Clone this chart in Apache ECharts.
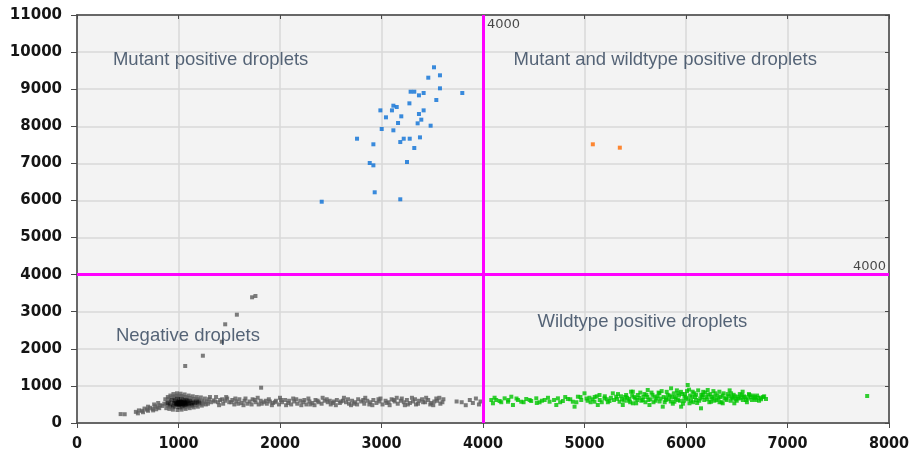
<!DOCTYPE html>
<html>
<head>
<meta charset="utf-8">
<script src="https://cdn.jsdelivr.net/npm/echarts@6/dist/echarts.min.js"></script>
<style>
  html, body { margin: 0; padding: 0; background: #ffffff; }
  #chart { width: 914px; height: 460px; }
</style>
</head>
<body>
<div id="chart"></div>
<script>
// ---------- data ----------
const xTicks = [0, 1000, 2000, 3000, 4000, 5000, 6000, 7000, 8000];
const yTicks = [0, 1000, 2000, 3000, 4000, 5000, 6000, 7000, 8000, 9000, 10000, 11000];
const thresholdX = 4000;
const thresholdY = 4000;

const quadrantLabels = [
  [354, 9787, 'Mutant positive droplets'],
  [4301, 9787, 'Mutant and wildtype positive droplets'],
  [384, 2346, 'Negative droplets'],
  [4537, 2723, 'Wildtype positive droplets']
];

const mutantPoints = [
  [3517,9590],[3576,9374],[3461,9310],[3576,9023],[3796,8897],[3287,8932],[3323,8932],
  [3415,8897],[3369,8834],[3540,8708],[3275,8618],[3117,8555],[3150,8519],[3103,8429],
  [2989,8429],[3415,8429],[3369,8331],[3195,8268],[3044,8241],[3392,8178],[3163,8088],
  [3356,8079],[3484,8016],[3002,7926],[3117,7891],[2759,7665],[3219,7665],[3278,7665],
  [3379,7701],[3185,7575],[2920,7514],[3323,7414],[2884,7010],[2920,6947],[3251,7037],
  [2933,6220],[3185,6031],[2411,5966]
];

const doublePoints = [[5082,7514],[5348,7423]];

const negativeOutliers = [
  [1066,1537],[1240,1814],[1427,2192],[1460,2661],[1575,2920],[1725,3389],[1758,3424],[1814,952]
];

const negativeBand = [
  [430,240],[470,236],[580,300],[610,340],[640,330],[665,390],[690,360],[720,410],[745,380],
  [770,450],[795,430],[820,480],[840,460],[860,520],[880,500],[600,260],[650,290],[700,330],
  [750,340],[780,370],[810,400],[700,440],[760,500],[800,540],
  [870,640],[895,700],[920,740],[950,780],[985,800],[1020,790],[1060,770],[1100,740],[1140,720],
  [1180,700],[1220,690],[1260,660],
  [880,400],[910,380],[945,360],[990,350],[1030,360],[1070,380],[1110,400],[1150,420],[1190,440],
  [1230,470],[1270,500],
  [890,560],[900,650],[930,690],[960,720],[990,740],[1030,730],[1070,700],[1110,680],[1150,650],
  [1190,640],[1230,600],[1250,560],[900,460],[940,420],[1100,460],[1140,480],[1180,500],[1210,520],
  [960,680],[1000,700],[1040,690],[1080,660],[1120,620],[1160,600],[1200,600],[1240,520],[920,440],
  [1060,420],[1090,440],[1130,460],[1170,480],
  [1280,580],[1300,640],[1320,560],[1345,610],[1370,700],[1390,560],[1410,620],[1440,520],[1460,600],
  [1480,660],[1500,560],[1530,620],[1550,500],[1570,580],[1600,640],[1620,540],[1650,600],[1680,520],
  [1700,580],[1730,640],[1760,560],[1790,500],[1810,600],[1840,560],[1870,520],[1900,580],[1930,540],
  [1960,600],[1990,500],[2020,560],[2050,620],[2080,540],[2110,500],[2140,580],[2170,520],[2200,600],
  [2230,560],[2260,500],[2290,580],[2320,540],[2350,620],[2380,560],[2410,520],[2440,600],[2470,560],
  [2500,500],[2530,580],[2560,620],[2590,540],[2620,600],[2650,560],[2680,520],[2710,600],[2740,560],
  [2770,640],[2800,580],[2830,520],[2860,600],[2890,560],[2920,620],[2950,540],[2980,580],[3010,500],
  [3040,600],[3070,560],[3100,640],[3130,580],[3160,520],[3190,600],[3220,560],[3250,620],[3280,540],
  [3310,580],[3340,500],[3370,600],[3400,640],[3430,560],[3460,620],[3490,540],[3520,580],[3550,600],
  [3580,520],[3610,640],[3740,580],[3790,560],[3830,480],[3870,620],[3900,540],[3930,660],[3960,500],
  [3975,580],
  [1290,520],[1360,580],[1430,640],[1520,560],[1590,520],[1660,660],[1750,620],[1820,520],[1890,640],
  [1950,560],[2010,620],[2090,600],[2160,640],[2240,620],[2300,500],[2370,600],[2460,640],[2520,540],
  [2600,580],[2670,640],[2730,520],[2820,620],[2880,500],[2970,640],[3050,540],[3120,620],[3200,660],
  [3260,500],[3330,640],[3410,560],[3480,500],[3540,660],[3600,560],
  [1310,700],[1400,480],[1470,700],[1560,660],[1640,480],[1720,500],[1780,680],[1860,600],[1920,480],
  [2000,680],[2060,480],[2130,660],[2210,480],[2280,660],[2340,480],[2420,680],[2490,600],[2550,480],
  [2630,680],[2700,480],[2760,500],[2840,680],[2910,480],[2990,660],[3080,480],[3150,680],[3230,480],
  [3300,680],[3360,520],[3440,680],[3510,480],[3570,680]
];

const negativeCore = [
  [900,540],[920,500],[930,580],[940,620],[950,470],[960,540],[970,600],[975,440],[985,510],[990,650],
  [995,560],[1000,480],[1005,600],[1010,530],[1015,420],[1020,570],[1025,500],[1030,640],[1035,460],
  [1040,550],[1045,600],[1050,520],[1055,480],[1060,580],[1070,540],[1075,620],[1080,500],[1090,560],
  [1100,520],[1110,590],[1120,540],[1130,500],[1140,560],[1160,540],[1180,580],[1200,550],[1020,520],
  [1000,540],[980,560],[1040,510],[1060,530],[1010,580],[990,500],[1050,560],[1030,540],[970,520],
  [1070,500],[1085,580],[1000,520],[1020,550],[1040,530],[980,530],[1060,550],[1010,510],[1030,560],
  [1050,540],[995,545],[1015,535]
];

const wildtypePoints = [
  [4082,620],[4114,682],[4098,531],[4164,593],[4213,665],[4246,574],[4295,485],[4279,709],[4344,620],
  [4377,574],[4426,647],[4475,593],[4525,665],[4557,558],[4607,620],[4656,574],[4722,485],[4738,665],
  [4787,593],[4836,647],[4885,574],[4902,440],[4935,709],[4968,620],[5000,800],[5049,682],[5098,574],
  [5131,485],[5148,755],[5197,665],[5246,593],[5279,800],[5312,709],[5345,574],[5377,485],[5410,755],
  [5443,647],[5476,844],[5509,531],
  [5459,844],[5476,531],[5525,755],[5574,620],[5623,890],[5640,485],[5689,709],[5738,800],[5771,440],
  [5804,665],[5853,935],[5886,574],[5919,800],[5952,440],[5985,709],[6017,1024],[6034,531],[6066,844],
  [6099,620],[6148,396],[6165,755],[6214,890],[6247,574],[6280,709],[6329,844],[6362,531],[6395,665],
  [6444,800],[6476,531],[6509,709],[6558,844],[6591,620],[6624,755],[6673,665],[6739,682],[6788,647],
  [5320,650],[5360,720],[5390,600],[5420,680],[5450,560],[5490,700],[5520,620],[5550,820],[5580,700],
  [5600,560],[5610,760],[5650,640],[5660,820],[5700,600],[5720,720],[5750,660],[5760,860],[5790,560],
  [5820,760],[5830,640],[5860,700],[5870,520],[5900,660],[5910,880],[5940,600],[5960,780],[5970,520],
  [6000,680],[6010,860],[6040,740],[6050,600],[6080,800],[6090,700],[6110,540],[6120,880],[6140,660],
  [6150,760],[6180,620],[6190,820],[6200,700],[6230,560],[6240,780],[6260,660],[6270,860],[6300,620],
  [6310,740],[6340,700],[6350,560],[6370,800],[6400,620],[6420,720],[6430,880],[6460,660],[6470,760],
  [6500,600],[6530,780],[6540,680],[6570,720],[6600,560],[6640,700],[6700,740],[6720,600],[6760,700],
  [5200,720],[5230,560],[5260,680],[5150,620],[5100,700],[5060,560],[5020,660],[4960,700],[4920,560],
  [4860,640],[4810,700],[4760,560],[4700,620],[4640,680],[4580,600],[4530,540],[4460,620],[4400,560],
  [4330,660],[4250,620],[4180,560],[4130,620],
  [5030,600],[5080,640],[5120,720],[5170,560],[5220,640],[5290,620],[5330,780],[5370,640],[5400,700],
  [5430,600],[5470,740],[5500,660],[5540,680],[5560,600],[5590,780],[5620,700],[5630,620],[5670,760],
  [5680,560],[5710,660],[5730,820],[5740,580],[5780,700],[5800,620],[5810,840],[5840,740],[5850,580],
  [5880,800],[5890,700],[5920,620],[5930,740],[5950,840],[5980,600],[5990,780],[6020,640],[6030,900],
  [6060,700],[6070,560],[6100,760],[6130,600],[6160,700],[6170,840],[6210,640],[6220,760],[6250,700],
  [6280,600],[6290,800],[6320,660],[6330,560],[6360,740],[6380,660],[6410,780],[6440,600],[6450,700],
  [6480,720],[6490,640],[6520,660],[6550,760],[6560,620],[6580,700],[6610,660],[6620,780],[6650,620],
  [6660,740],[6680,700],[6690,620],[6710,680],[6740,640],[6770,720],
  [7785,728]
];

// ---------- chart ----------
const chart = echarts.init(document.getElementById('chart'), null, { renderer: 'canvas' });

const plainNumber = v => String(v);

const option = {
  animation: false,
  backgroundColor: '#ffffff',
  grid: {
    left: 77, right: 25, top: 15, bottom: 37,
    show: true, backgroundColor: '#f3f3f3', borderColor: '#5a5a5a', borderWidth: 1.5
  },
  xAxis: [{
    type: 'value', min: xTicks[0], max: xTicks[xTicks.length - 1], interval: 1000,
    axisLine: { show: true, onZero: false, lineStyle: { color: '#4a4a4a', width: 1.5 } },
    axisTick: { show: true, inside: false, length: 5, lineStyle: { color: '#4a4a4a' } },
    axisLabel: { margin: 13, fontSize: 16, fontFamily: 'DejaVu Sans Condensed', color: '#151515', fontWeight: 'bold', formatter: plainNumber },
    splitLine: { show: true, lineStyle: { color: '#d9d9d9', width: 1.5 } }
  }, {
    type: 'value', position: 'top', min: 0, max: 8000, interval: 1000,
    axisLine: { show: true, onZero: false, lineStyle: { color: '#4a4a4a', width: 1.5 } },
    axisTick: { show: true, inside: true, length: 4, lineStyle: { color: '#4a4a4a' } },
    axisLabel: { show: false }, splitLine: { show: false }
  }],
  yAxis: [{
    type: 'value', min: yTicks[0], max: yTicks[yTicks.length - 1], interval: 1000,
    axisLine: { show: true, onZero: false, lineStyle: { color: '#4a4a4a', width: 1.5 } },
    axisTick: { show: true, inside: false, length: 6, lineStyle: { color: '#4a4a4a' } },
    axisLabel: { margin: 15, fontSize: 15, fontFamily: 'DejaVu Sans', color: '#151515', fontWeight: 'bold', formatter: plainNumber },
    splitLine: { show: true, lineStyle: { color: '#d9d9d9', width: 1.5 } }
  }, {
    type: 'value', position: 'right', min: 0, max: 11000, interval: 1000,
    axisLine: { show: true, onZero: false, lineStyle: { color: '#4a4a4a', width: 1.5 } },
    axisTick: { show: true, inside: true, length: 4, lineStyle: { color: '#4a4a4a' } },
    axisLabel: { show: false }, splitLine: { show: false }
  }],
  series: [
    {
      name: 'Negative', type: 'scatter', symbol: 'rect', symbolSize: 4,
      itemStyle: { color: '#5c5c5c' },
      data: negativeBand.concat(negativeOutliers)
    },
    {
      name: 'NegativeCore', type: 'scatter', symbol: 'rect', symbolSize: [5, 4],
      itemStyle: { color: '#000000', opacity: 0.45 },
      data: negativeCore
    },
    {
      name: 'Wildtype', type: 'scatter', symbol: 'rect', symbolSize: 4,
      itemStyle: { color: '#00c400' },
      data: wildtypePoints
    },
    {
      name: 'Mutant', type: 'scatter', symbol: 'rect', symbolSize: 4,
      itemStyle: { color: '#0a6fd6' },
      data: mutantPoints
    },
    {
      name: 'Double', type: 'scatter', symbol: 'rect', symbolSize: 4,
      itemStyle: { color: '#ff6a00' },
      data: doublePoints,
      markLine: {
        silent: true, symbol: ['none', 'none'], animation: false,
        lineStyle: { color: '#ff00ff', width: 3, type: 'solid' },
        label: { show: false },
        data: [{ xAxis: thresholdX }, { yAxis: thresholdY }]
      }
    },
    {
      name: 'ThresholdLabels', type: 'scatter', symbolSize: 0, silent: true, z: 5,
      data: [
        { value: [thresholdX, yTicks[yTicks.length - 1]], label: { position: [4, 3], align: 'left', verticalAlign: 'top' } },
        { value: [xTicks[xTicks.length - 1], thresholdY], label: { position: [-3, -2], align: 'right', verticalAlign: 'bottom' } }
      ],
      label: {
        show: true, formatter: '4000', color: '#1a1a1a', fontSize: 13,
        fontFamily: 'DejaVu Sans'
      }
    },
    {
      name: 'QuadrantLabels', type: 'scatter', symbolSize: 0, silent: true, z: 5,
      data: quadrantLabels,
      label: {
        show: true, position: 'right', distance: 0,
        formatter: p => p.data[2],
        color: '#2c3e56', fontSize: 18.5, fontFamily: 'Liberation Sans'
      }
    }
  ]
};
chart.setOption(option);
</script>
</body>
</html>
